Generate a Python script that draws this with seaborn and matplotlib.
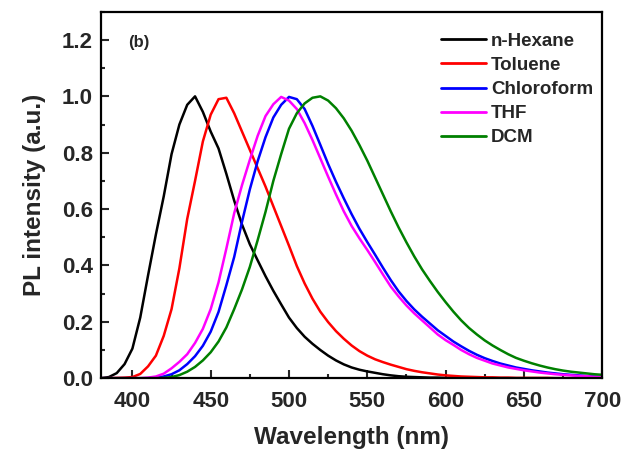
import numpy as np
import pandas as pd
import matplotlib
matplotlib.use("Agg")
import matplotlib.pyplot as plt
import seaborn as sns
from matplotlib.ticker import MultipleLocator

# wavelength grid (nm)
wavelength = list(range(380, 705, 5))

# normalized PL intensity
n_hexane = [0.0, 0.004, 0.018, 0.05, 0.105, 0.215, 0.365, 0.51, 0.645, 0.795,
            0.90, 0.97, 1.0, 0.945, 0.875, 0.815, 0.725, 0.63, 0.545, 0.475,
            0.418, 0.362, 0.31, 0.262, 0.215, 0.178, 0.147, 0.122, 0.10, 0.08,
            0.063, 0.049, 0.038, 0.03, 0.024, 0.019, 0.014, 0.01, 0.007, 0.005,
            0.004, 0.003, 0.002, 0.002, 0.001, 0.001, 0.001, 0.0, 0.0, 0.0,
            0.0, 0.0, 0.0, 0.0, 0.0, 0.0, 0.0, 0.0, 0.0, 0.0,
            0.0, 0.0, 0.0, 0.0, 0.0]
toluene = [0.0, 0.0, 0.001, 0.002, 0.004, 0.015, 0.042, 0.08, 0.15, 0.245,
           0.39, 0.565, 0.70, 0.84, 0.935, 0.99, 0.995, 0.94, 0.875, 0.81,
           0.745, 0.68, 0.61, 0.54, 0.47, 0.398, 0.336, 0.282, 0.236, 0.199,
           0.167, 0.14, 0.116, 0.096, 0.08, 0.067, 0.057, 0.048, 0.04, 0.032,
           0.026, 0.021, 0.017, 0.013, 0.01, 0.008, 0.006, 0.005, 0.004, 0.003,
           0.003, 0.002, 0.002, 0.001, 0.001, 0.001, 0.001, 0.001, 0.0, 0.0,
           0.0, 0.0, 0.0, 0.0, 0.0]
chloroform = [0.0, 0.0, 0.0, 0.0, 0.0, 0.0, 0.0, 0.002, 0.006, 0.014,
              0.028, 0.05, 0.078, 0.115, 0.165, 0.235, 0.33, 0.43, 0.555, 0.67,
              0.77, 0.855, 0.925, 0.97, 0.998, 0.99, 0.955, 0.895, 0.828, 0.76,
              0.697, 0.638, 0.582, 0.53, 0.483, 0.438, 0.392, 0.348, 0.308, 0.274,
              0.244, 0.218, 0.194, 0.17, 0.15, 0.13, 0.113, 0.097, 0.083, 0.071,
              0.061, 0.052, 0.045, 0.038, 0.033, 0.028, 0.024, 0.02, 0.017, 0.014,
              0.012, 0.01, 0.008, 0.006, 0.005]
thf = [0.0, 0.0, 0.0, 0.0, 0.0, 0.0, 0.002, 0.006, 0.016, 0.035,
       0.058, 0.085, 0.125, 0.175, 0.245, 0.34, 0.46, 0.585, 0.685, 0.775,
       0.86, 0.93, 0.972, 0.998, 0.985, 0.955, 0.905, 0.845, 0.78, 0.715,
       0.652, 0.592, 0.54, 0.496, 0.455, 0.412, 0.368, 0.325, 0.29, 0.258,
       0.23, 0.205, 0.18, 0.155, 0.135, 0.118, 0.10, 0.085, 0.072, 0.062,
       0.052, 0.045, 0.038, 0.033, 0.028, 0.024, 0.02, 0.017, 0.014, 0.012,
       0.01, 0.008, 0.007, 0.005, 0.004]
dcm = [0.0, 0.0, 0.0, 0.0, 0.0, 0.0, 0.0, 0.0, 0.001, 0.004,
       0.011, 0.023, 0.04, 0.063, 0.092, 0.13, 0.18, 0.245, 0.315, 0.395,
       0.49, 0.59, 0.70, 0.795, 0.885, 0.94, 0.975, 0.995, 1.0, 0.985,
       0.958, 0.922, 0.878, 0.827, 0.772, 0.712, 0.652, 0.592, 0.535, 0.482,
       0.432, 0.386, 0.345, 0.306, 0.27, 0.236, 0.205, 0.178, 0.155, 0.134,
       0.116, 0.10, 0.085, 0.072, 0.062, 0.053, 0.045, 0.038, 0.032, 0.027,
       0.023, 0.02, 0.017, 0.014, 0.012]

solvents = ["n-Hexane", "Toluene", "Chloroform", "THF", "DCM"]
colors = ["#000000", "#ff0000", "#0000ff", "#ff00ff", "#008000"]

series = [n_hexane, toluene, chloroform, thf, dcm]
df = pd.concat([pd.DataFrame({"Wavelength": wavelength, "PL": s, "Solvent": name})
                for name, s in zip(solvents, series)], ignore_index=True)

sns.set_style("ticks")
plt.rcParams["font.family"] = ["Liberation Sans", "DejaVu Sans"]
plt.rcParams["font.weight"] = "bold"

fig = plt.figure(figsize=(6.24, 4.54), dpi=100)
ax = fig.add_axes([0.162, 0.167, 0.803, 0.807])

sns.lineplot(data=df, x="Wavelength", y="PL", hue="Solvent", hue_order=solvents,
             palette=dict(zip(solvents, colors)), linewidth=1.8, ax=ax)

ax.set_xlim(380, 700)
ax.set_ylim(0, 1.3)
ax.xaxis.set_major_locator(MultipleLocator(50))
ax.xaxis.set_minor_locator(MultipleLocator(25))
ax.yaxis.set_minor_locator(MultipleLocator(0.1))
ax.set_yticks(np.arange(0, 1.21, 0.2))
ax.set_yticklabels([f"{v:.1f}" for v in np.arange(0, 1.21, 0.2)])
ax.tick_params(which="both", direction="in", top=False, right=False, width=1.5)
ax.tick_params(which="major", length=5.5, labelsize=16)
ax.tick_params(axis="x", which="major", pad=9)
ax.tick_params(axis="y", which="major", pad=6)
ax.tick_params(which="minor", length=3)
for sp in ax.spines.values():
    sp.set_linewidth(1.6)
    sp.set_color("black")

ax.set_xlabel("Wavelength (nm)", fontsize=17.5, fontweight="bold", labelpad=10)
ax.set_ylabel("PL intensity (a.u.)", fontsize=17.5, fontweight="bold", labelpad=11)
ax.text(0.054, 0.915, "(b)", transform=ax.transAxes, fontsize=12,
        fontweight="bold", va="center")

leg = ax.legend(loc="upper right", frameon=False, fontsize=13.5, handlelength=2.4,
                handletextpad=0.27, labelspacing=0.37, borderaxespad=0.0,
                bbox_to_anchor=(0.997, 0.963))
for line in leg.get_lines():
    line.set_linewidth(2.0)

fig.savefig("out.png", dpi=100)
